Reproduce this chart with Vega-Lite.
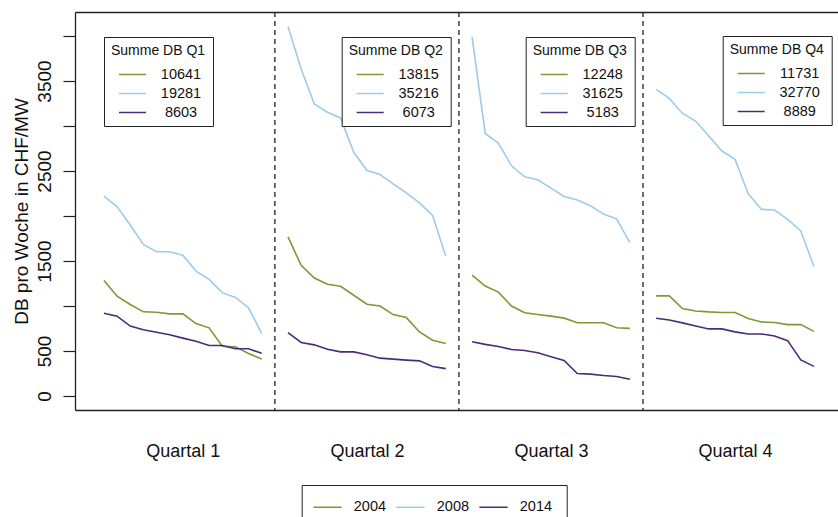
{
  "$schema": "https://vega.github.io/schema/vega-lite/v6.json",
  "width": 763,
  "height": 398,
  "autosize": "none",
  "padding": {"left": 75, "top": 12, "right": 0, "bottom": 107},
  "config": {"view": {"stroke": null}, "font": "Liberation Sans", "background": "white"},
  "datasets": {
    "sep": [{"t": 14}, {"t": 28}, {"t": 42}],
    "d": [
      {"q":1,"t":1,"year":"2004","v":1283},{"q":1,"t":2,"year":"2004","v":1109},{"q":1,"t":3,"year":"2004","v":1016},{"q":1,"t":4,"year":"2004","v":935},{"q":1,"t":5,"year":"2004","v":931},{"q":1,"t":6,"year":"2004","v":912},{"q":1,"t":7,"year":"2004","v":912},{"q":1,"t":8,"year":"2004","v":805},{"q":1,"t":9,"year":"2004","v":757},{"q":1,"t":10,"year":"2004","v":553},{"q":1,"t":11,"year":"2004","v":546},{"q":1,"t":12,"year":"2004","v":472},{"q":1,"t":13,"year":"2004","v":410},
      {"q":1,"t":1,"year":"2008","v":2220},{"q":1,"t":2,"year":"2008","v":2105},{"q":1,"t":3,"year":"2008","v":1900},{"q":1,"t":4,"year":"2008","v":1685},{"q":1,"t":5,"year":"2008","v":1602},{"q":1,"t":6,"year":"2008","v":1602},{"q":1,"t":7,"year":"2008","v":1565},{"q":1,"t":8,"year":"2008","v":1388},{"q":1,"t":9,"year":"2008","v":1296},{"q":1,"t":10,"year":"2008","v":1148},{"q":1,"t":11,"year":"2008","v":1095},{"q":1,"t":12,"year":"2008","v":980},{"q":1,"t":13,"year":"2008","v":695},
      {"q":1,"t":1,"year":"2014","v":920},{"q":1,"t":2,"year":"2014","v":887},{"q":1,"t":3,"year":"2014","v":776},{"q":1,"t":4,"year":"2014","v":735},{"q":1,"t":5,"year":"2014","v":709},{"q":1,"t":6,"year":"2014","v":680},{"q":1,"t":7,"year":"2014","v":643},{"q":1,"t":8,"year":"2014","v":609},{"q":1,"t":9,"year":"2014","v":561},{"q":1,"t":10,"year":"2014","v":561},{"q":1,"t":11,"year":"2014","v":524},{"q":1,"t":12,"year":"2014","v":524},{"q":1,"t":13,"year":"2014","v":474},
      {"q":2,"t":15,"year":"2004","v":1767},{"q":2,"t":16,"year":"2004","v":1452},{"q":2,"t":17,"year":"2004","v":1311},{"q":2,"t":18,"year":"2004","v":1241},{"q":2,"t":19,"year":"2004","v":1219},{"q":2,"t":20,"year":"2004","v":1119},{"q":2,"t":21,"year":"2004","v":1019},{"q":2,"t":22,"year":"2004","v":1000},{"q":2,"t":23,"year":"2004","v":904},{"q":2,"t":24,"year":"2004","v":871},{"q":2,"t":25,"year":"2004","v":711},{"q":2,"t":26,"year":"2004","v":619},{"q":2,"t":27,"year":"2004","v":582},
      {"q":2,"t":15,"year":"2008","v":4105},{"q":2,"t":16,"year":"2008","v":3634},{"q":2,"t":17,"year":"2008","v":3245},{"q":2,"t":18,"year":"2008","v":3153},{"q":2,"t":19,"year":"2008","v":3090},{"q":2,"t":20,"year":"2008","v":2708},{"q":2,"t":21,"year":"2008","v":2505},{"q":2,"t":22,"year":"2008","v":2460},{"q":2,"t":23,"year":"2008","v":2356},{"q":2,"t":24,"year":"2008","v":2256},{"q":2,"t":25,"year":"2008","v":2145},{"q":2,"t":26,"year":"2008","v":2005},{"q":2,"t":27,"year":"2008","v":1554},
      {"q":2,"t":15,"year":"2014","v":705},{"q":2,"t":16,"year":"2014","v":594},{"q":2,"t":17,"year":"2014","v":568},{"q":2,"t":18,"year":"2014","v":520},{"q":2,"t":19,"year":"2014","v":490},{"q":2,"t":20,"year":"2014","v":490},{"q":2,"t":21,"year":"2014","v":457},{"q":2,"t":22,"year":"2014","v":420},{"q":2,"t":23,"year":"2014","v":409},{"q":2,"t":24,"year":"2014","v":398},{"q":2,"t":25,"year":"2014","v":390},{"q":2,"t":26,"year":"2014","v":328},{"q":2,"t":27,"year":"2014","v":304},
      {"q":3,"t":29,"year":"2004","v":1343},{"q":3,"t":30,"year":"2004","v":1221},{"q":3,"t":31,"year":"2004","v":1154},{"q":3,"t":32,"year":"2004","v":999},{"q":3,"t":33,"year":"2004","v":925},{"q":3,"t":34,"year":"2004","v":906},{"q":3,"t":35,"year":"2004","v":887},{"q":3,"t":36,"year":"2004","v":865},{"q":3,"t":37,"year":"2004","v":813},{"q":3,"t":38,"year":"2004","v":813},{"q":3,"t":39,"year":"2004","v":813},{"q":3,"t":40,"year":"2004","v":758},{"q":3,"t":41,"year":"2004","v":751},
      {"q":3,"t":29,"year":"2008","v":3991},{"q":3,"t":30,"year":"2008","v":2917},{"q":3,"t":31,"year":"2008","v":2810},{"q":3,"t":32,"year":"2008","v":2558},{"q":3,"t":33,"year":"2008","v":2436},{"q":3,"t":34,"year":"2008","v":2403},{"q":3,"t":35,"year":"2008","v":2310},{"q":3,"t":36,"year":"2008","v":2217},{"q":3,"t":37,"year":"2008","v":2177},{"q":3,"t":38,"year":"2008","v":2114},{"q":3,"t":39,"year":"2008","v":2021},{"q":3,"t":40,"year":"2008","v":1966},{"q":3,"t":41,"year":"2008","v":1705},
      {"q":3,"t":29,"year":"2014","v":602},{"q":3,"t":30,"year":"2014","v":573},{"q":3,"t":31,"year":"2014","v":550},{"q":3,"t":32,"year":"2014","v":517},{"q":3,"t":33,"year":"2014","v":506},{"q":3,"t":34,"year":"2014","v":480},{"q":3,"t":35,"year":"2014","v":436},{"q":3,"t":36,"year":"2014","v":395},{"q":3,"t":37,"year":"2014","v":250},{"q":3,"t":38,"year":"2014","v":243},{"q":3,"t":39,"year":"2014","v":228},{"q":3,"t":40,"year":"2014","v":217},{"q":3,"t":41,"year":"2014","v":186},
      {"q":4,"t":43,"year":"2004","v":1112},{"q":4,"t":44,"year":"2004","v":1112},{"q":4,"t":45,"year":"2004","v":971},{"q":4,"t":46,"year":"2004","v":945},{"q":4,"t":47,"year":"2004","v":934},{"q":4,"t":48,"year":"2004","v":927},{"q":4,"t":49,"year":"2004","v":927},{"q":4,"t":50,"year":"2004","v":860},{"q":4,"t":51,"year":"2004","v":823},{"q":4,"t":52,"year":"2004","v":816},{"q":4,"t":53,"year":"2004","v":793},{"q":4,"t":54,"year":"2004","v":793},{"q":4,"t":55,"year":"2004","v":718},
      {"q":4,"t":43,"year":"2008","v":3407},{"q":4,"t":44,"year":"2008","v":3307},{"q":4,"t":45,"year":"2008","v":3140},{"q":4,"t":46,"year":"2008","v":3055},{"q":4,"t":47,"year":"2008","v":2888},{"q":4,"t":48,"year":"2008","v":2722},{"q":4,"t":49,"year":"2008","v":2629},{"q":4,"t":50,"year":"2008","v":2248},{"q":4,"t":51,"year":"2008","v":2074},{"q":4,"t":52,"year":"2008","v":2066},{"q":4,"t":53,"year":"2008","v":1963},{"q":4,"t":54,"year":"2008","v":1833},{"q":4,"t":55,"year":"2008","v":1438},
      {"q":4,"t":43,"year":"2014","v":863},{"q":4,"t":44,"year":"2014","v":845},{"q":4,"t":45,"year":"2014","v":812},{"q":4,"t":46,"year":"2014","v":778},{"q":4,"t":47,"year":"2014","v":745},{"q":4,"t":48,"year":"2014","v":745},{"q":4,"t":49,"year":"2014","v":712},{"q":4,"t":50,"year":"2014","v":689},{"q":4,"t":51,"year":"2014","v":689},{"q":4,"t":52,"year":"2014","v":667},{"q":4,"t":53,"year":"2014","v":615},{"q":4,"t":54,"year":"2014","v":400},{"q":4,"t":55,"year":"2014","v":329}
    ]
  },
  "layer": [
    {
      "data": {"name": "sep"},
      "mark": {"type": "rule", "strokeDash": [5, 4], "color": "#222", "strokeWidth": 1.3},
      "encoding": {
        "x": {"field": "t", "type": "quantitative", "scale": {"domain": [-1.2, 56.83], "nice": false, "zero": false},
              "axis": {"orient": "top", "labels": false, "ticks": false, "grid": false, "title": null, "domainColor": "#222", "domainWidth": 1.3}}
      }
    },
    {
      "data": {"name": "d"},
      "transform": [{"filter": "false"}],
      "mark": {"type": "line", "strokeWidth": 1.6},
      "encoding": {
        "x": {"field": "t", "type": "quantitative", "scale": {"domain": [-1.2, 56.83], "nice": false, "zero": false},
              "axis": {"orient": "bottom", "values": [7, 21, 35, 49], "labelExpr": "'Quartal ' + ((datum.value + 7) / 14)", "ticks": false, "tickSize": 0, "labelPadding": 46, "labelBaseline": "alphabetic", "labelFontSize": 18, "labelColor": "#111", "grid": false, "title": null, "domainColor": "#222", "domainWidth": 1.3, "labelFlush": false}},
        "y": {"field": "v", "type": "quantitative", "scale": {"domain": [-156, 4267], "nice": false, "zero": false},
              "axis": {"orient": "left", "values": [0, 500, 1000, 1500, 2000, 2500, 3000, 3500, 4000], "format": "d",
                       "labelExpr": "(datum.value == 0 || datum.value % 1000 == 500) ? datum.label : ''",
                       "grid": false, "tickSize": 12, "tickColor": "#222", "tickWidth": 1.2, "domainColor": "#222", "domainWidth": 1.3,
                       "labelAngle": 270, "labelAlign": "center", "labelBaseline": "alphabetic", "labelPadding": 13, "labelFontSize": 19, "labelColor": "#111",
                       "labelFlush": false, "labelOverlap": false,
                       "title": "DB pro Woche in CHF/MW", "titleFontSize": 19, "titleFontWeight": "normal", "titleColor": "#111",
                       "titleAngle": 270, "titleX": -48, "titleY": 199, "titleAlign": "center", "titleBaseline": "alphabetic"}},
        "color": {"field": "year", "type": "nominal", "scale": {"domain": ["2004", "2008", "2014"], "range": ["#7d9a32", "#9ecbeb", "#4b2b78"]},
                  "legend": {"orient": "none", "legendX": 226.7, "legendY": 473, "direction": "horizontal", "title": null,
                             "symbolType": "M-2,0L2,0", "symbolSize": 200, "symbolStrokeWidth": 1.5, "symbolOffset": 3.8,
                             "labelOffset": 18.3, "columnPadding": 6, "padding": 14, "labelFontSize": 14.5, "labelColor": "#111",
                             "strokeColor": "#222", "fillColor": "white"}}
      }
    },
    {
      "data": {"name": "d"},
      "transform": [{"filter": "datum.q == 1"}],
      "mark": {"type": "line", "strokeWidth": 1.6},
      "encoding": {
        "x": {"field": "t", "type": "quantitative", "scale": {"domain": [-1.2, 56.83], "nice": false, "zero": false}, "axis": null},
        "y": {"field": "v", "type": "quantitative", "scale": {"domain": [-156, 4267], "nice": false, "zero": false}},
        "color": {"field": "year", "type": "nominal", "scale": {"domain": ["2004", "2008", "2014"], "range": ["#7d9a32", "#9ecbeb", "#4b2b78"]},
                  "legend": {"orient": "none", "legendX": 29, "legendY": 25, "title": "Summe DB Q1", "titleFontSize": 14, "titleFontWeight": "normal", "titleColor": "#111", "titlePadding": 9,
                             "labelExpr": "datum.label == '2004' ? '10641' : datum.label == '2008' ? '19281' : '8603'",
                             "symbolType": "M-2,0L2,0", "symbolSize": 182, "symbolStrokeWidth": 1.5, "symbolOffset": 14,
                             "labelAlign": "center", "labelOffset": 41, "rowPadding": 4, "padding": 7, "labelFontSize": 14.5, "labelColor": "#111",
                             "strokeColor": "#222", "fillColor": "white"}}
      }
    },
    {
      "data": {"name": "d"},
      "transform": [{"filter": "datum.q == 2"}],
      "mark": {"type": "line", "strokeWidth": 1.6},
      "encoding": {
        "x": {"field": "t", "type": "quantitative", "scale": {"domain": [-1.2, 56.83], "nice": false, "zero": false}, "axis": null},
        "y": {"field": "v", "type": "quantitative", "scale": {"domain": [-156, 4267], "nice": false, "zero": false}},
        "color": {"field": "year", "type": "nominal", "scale": {"domain": ["2004", "2008", "2014"], "range": ["#7d9a32", "#9ecbeb", "#4b2b78"]},
                  "legend": {"orient": "none", "legendX": 266.7, "legendY": 25, "title": "Summe DB Q2", "titleFontSize": 14, "titleFontWeight": "normal", "titleColor": "#111", "titlePadding": 9,
                             "labelExpr": "datum.label == '2004' ? '13815' : datum.label == '2008' ? '35216' : '6073'",
                             "symbolType": "M-2,0L2,0", "symbolSize": 182, "symbolStrokeWidth": 1.5, "symbolOffset": 14,
                             "labelAlign": "center", "labelOffset": 41, "rowPadding": 4, "padding": 7, "labelFontSize": 14.5, "labelColor": "#111",
                             "strokeColor": "#222", "fillColor": "white"}}
      }
    },
    {
      "data": {"name": "d"},
      "transform": [{"filter": "datum.q == 3"}],
      "mark": {"type": "line", "strokeWidth": 1.6},
      "encoding": {
        "x": {"field": "t", "type": "quantitative", "scale": {"domain": [-1.2, 56.83], "nice": false, "zero": false}, "axis": null},
        "y": {"field": "v", "type": "quantitative", "scale": {"domain": [-156, 4267], "nice": false, "zero": false}},
        "color": {"field": "year", "type": "nominal", "scale": {"domain": ["2004", "2008", "2014"], "range": ["#7d9a32", "#9ecbeb", "#4b2b78"]},
                  "legend": {"orient": "none", "legendX": 450.7, "legendY": 25, "title": "Summe DB Q3", "titleFontSize": 14, "titleFontWeight": "normal", "titleColor": "#111", "titlePadding": 9,
                             "labelExpr": "datum.label == '2004' ? '12248' : datum.label == '2008' ? '31625' : '5183'",
                             "symbolType": "M-2,0L2,0", "symbolSize": 182, "symbolStrokeWidth": 1.5, "symbolOffset": 14,
                             "labelAlign": "center", "labelOffset": 41, "rowPadding": 4, "padding": 7, "labelFontSize": 14.5, "labelColor": "#111",
                             "strokeColor": "#222", "fillColor": "white"}}
      }
    },
    {
      "data": {"name": "d"},
      "transform": [{"filter": "datum.q == 4"}],
      "mark": {"type": "line", "strokeWidth": 1.6},
      "encoding": {
        "x": {"field": "t", "type": "quantitative", "scale": {"domain": [-1.2, 56.83], "nice": false, "zero": false}, "axis": null},
        "y": {"field": "v", "type": "quantitative", "scale": {"domain": [-156, 4267], "nice": false, "zero": false}},
        "color": {"field": "year", "type": "nominal", "scale": {"domain": ["2004", "2008", "2014"], "range": ["#7d9a32", "#9ecbeb", "#4b2b78"]},
                  "legend": {"orient": "none", "legendX": 647.7, "legendY": 24, "title": "Summe DB Q4", "titleFontSize": 14, "titleFontWeight": "normal", "titleColor": "#111", "titlePadding": 9,
                             "labelExpr": "datum.label == '2004' ? '11731' : datum.label == '2008' ? '32770' : '8889'",
                             "symbolType": "M-2,0L2,0", "symbolSize": 182, "symbolStrokeWidth": 1.5, "symbolOffset": 14,
                             "labelAlign": "center", "labelOffset": 41, "rowPadding": 4, "padding": 7, "labelFontSize": 14.5, "labelColor": "#111",
                             "strokeColor": "#222", "fillColor": "white"}}
      }
    }
  ],
  "resolve": {"scale": {"color": "independent"}, "axis": {"x": "independent"}, "legend": {"color": "independent"}}
}
